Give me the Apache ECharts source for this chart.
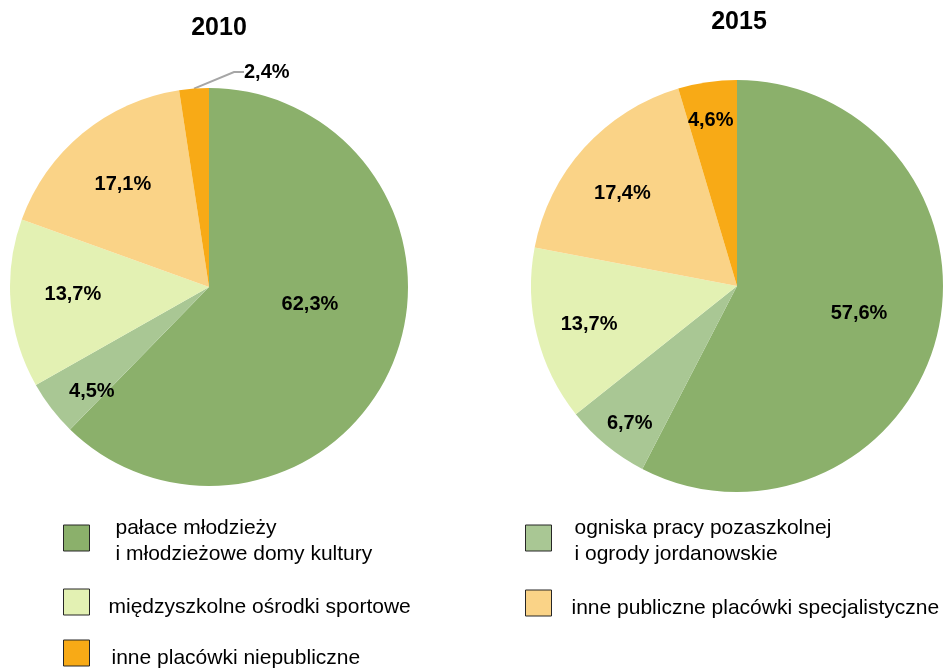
<!DOCTYPE html>
<html lang="pl">
<head>
    <meta charset="UTF-8">
    <title>Placówki wychowania pozaszkolnego</title>
    <script src="https://cdn.jsdelivr.net/npm/echarts@6/dist/echarts.min.js"></script>
    <style>
        html, body {margin: 0; padding: 0; background: #fff;}
        #chartContainer {width: 947px; height: 669px;}
    </style>
</head>
<body>
<div id="chartContainer"></div>
<script type="text/javascript">
    // dane
    var years = ['2010', '2015'];
    var categories = [
        'pałace młodzieży\ni młodzieżowe domy kultury',
        'ogniska pracy pozaszkolnej\ni ogrody jordanowskie',
        'międzyszkolne ośrodki sportowe',
        'inne publiczne placówki specjalistyczne',
        'inne placówki niepubliczne'
    ];
    var values2010 = [62.3, 4.5, 13.7, 17.1, 2.4];
    var values2015 = [57.6, 6.7, 13.7, 17.4, 4.6];

    var colors = ['#8BB06B', '#A9C794', '#E3F1B3', '#FAD387', '#F8AA16'];
    var fontName = '"Liberation Sans", Arial, sans-serif';

    // przesunięcia etykiet względem środka wycinka (dx, dy)
    var labelShift2010 = [[6, -21], [-36, 42], [-34, -1], [-21, -23], null];
    var labelShift2015 = [[19, 2], [-40, 56], [-45, 13], [-36, -21], [-11, -61]];

    function fmt(v) {
        return v.toFixed(1).replace('.', ',') + '%';
    }

    function makeData(values, outsideIdx) {
        return values.map(function (v, i) {
            var item = {value: v, name: categories[i], itemStyle: {color: colors[i]}};
            if (i === outsideIdx) {
                item.label = {position: 'outside'};
                item.labelLine = {show: true, length: 8, length2: 10, lineStyle: {color: '#A6A6A6', width: 2}};
            }
            return item;
        });
    }

    var chartDom = document.getElementById('chartContainer');
    var myChart = echarts.init(chartDom);

    var labelBase = {
        show: true,
        position: 'inside',
        color: '#000',
        fontSize: 20,
        fontWeight: 'bold',
        fontFamily: fontName,
        formatter: function (p) { return fmt(p.value); }
    };

    // legenda: osobny komponent dla każdej pozycji
    // gap = pusta linia nad tekstem, przesuwa tekst nieco w dół względem kwadratu
    var legendSpots = [
        {left: 63, top: 511, pad: 21, gap: 6},
        {left: 525, top: 511, pad: 18, gap: 6},
        {left: 63, top: 588, pad: 14, gap: 10},
        {left: 525, top: 589, pad: 15, gap: 10},
        {left: 63, top: 639, pad: 17, gap: 10}
    ];
    var legends = categories.map(function (name, i) {
        var s = legendSpots[i];
        return {
            data: [name],
            left: s.left,
            top: s.top,
            orient: 'vertical',
            padding: 0,
            icon: 'rect',
            itemWidth: 26,
            itemHeight: 26,
            selectedMode: false,
            itemStyle: {borderColor: '#262626', borderWidth: 1},
            formatter: function (n) {
                return '{g| }\n' + n.split('\n').map(function (line) {
                    return '{t|' + line + '}';
                }).join('\n');
            },
            textStyle: {
                color: '#000',
                fontFamily: fontName,
                padding: [0, 0, 0, s.pad],
                rich: {
                    g: {fontSize: 2, lineHeight: s.gap},
                    t: {fontSize: 21, lineHeight: 26, color: '#000', fontFamily: fontName}
                }
            }
        };
    });

    var option = {
        animation: false,
        title: [
            {
                text: years[0], left: 214, top: 11, textAlign: 'center',
                textStyle: {fontSize: 25, fontWeight: 'bold', color: '#000', fontFamily: fontName}
            },
            {
                text: years[1], left: 734, top: 5, textAlign: 'center',
                textStyle: {fontSize: 25, fontWeight: 'bold', color: '#000', fontFamily: fontName}
            }
        ],
        legend: legends,
        series: [
            {
                name: years[0],
                type: 'pie',
                center: [209, 287],
                radius: [0, 199],
                startAngle: 90,
                clockwise: true,
                itemStyle: {borderWidth: 0},
                label: labelBase,
                labelLine: {show: false},
                emphasis: {disabled: true},
                data: makeData(values2010, 4),
                labelLayout: function (p) {
                    var sh = labelShift2010[p.dataIndex];
                    if (!sh) {
                        return {x: 244, y: 72, align: 'left', verticalAlign: 'middle'};
                    }
                    return {dx: sh[0], dy: sh[1]};
                }
            },
            {
                name: years[1],
                type: 'pie',
                center: [737, 286],
                radius: [0, 206],
                startAngle: 90,
                clockwise: true,
                itemStyle: {borderWidth: 0},
                label: labelBase,
                labelLine: {show: false},
                emphasis: {disabled: true},
                data: makeData(values2015, -1),
                labelLayout: function (p) {
                    var sh = labelShift2015[p.dataIndex];
                    return {dx: sh[0], dy: sh[1]};
                }
            }
        ]
    };
    option && myChart.setOption(option);
</script>
</body>
</html>
